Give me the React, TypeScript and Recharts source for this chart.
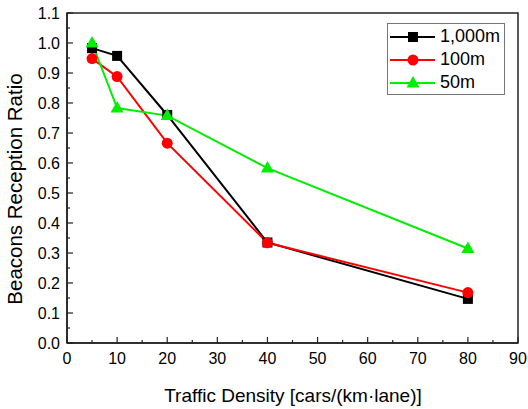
import React from "react";
import { LineChart, Line, XAxis, YAxis, ReferenceArea } from "recharts";

const density = [5, 10, 20, 40, 80];
const range1000 = [0.983, 0.957, 0.76, 0.335, 0.147];
const range100 = [0.948, 0.888, 0.666, 0.334, 0.168];
const range50 = [1.0, 0.783, 0.758, 0.583, 0.315];

const xTicks = [0, 5, 10, 15, 20, 25, 30, 35, 40, 45, 50, 55, 60, 65, 70, 75, 80, 85, 90];
const yTicks = [0, 0.05, 0.1, 0.15, 0.2, 0.25, 0.3, 0.35, 0.4, 0.45, 0.5, 0.55, 0.6, 0.65, 0.7, 0.75, 0.8, 0.85, 0.9, 0.95, 1.0, 1.05, 1.1];

const data = density.map((x, i) => ({
  x,
  r1000: range1000[i],
  r100: range100[i],
  r50: range50[i],
}));

const FONT = "'Liberation Sans', Arial, sans-serif";

const series = [
  { key: "r1000", name: "1,000m", color: "#000000", shape: "square" },
  { key: "r100", name: "100m", color: "#ff0000", shape: "circle" },
  { key: "r50", name: "50m", color: "#00ee00", shape: "triangle" },
];

function Marker({ shape, cx, cy, color }: any) {
  if (shape === "square") {
    return <rect x={cx - 5} y={cy - 5} width={10} height={10} fill={color} />;
  }
  if (shape === "circle") {
    return <circle cx={cx} cy={cy} r={5.5} fill={color} />;
  }
  return (
    <polygon
      points={`${cx},${cy - 7} ${cx - 6.5},${cy + 4.5} ${cx + 6.5},${cy + 4.5}`}
      fill={color}
    />
  );
}

function XTick({ x, y, payload }: any) {
  const major = payload.value % 10 === 0;
  return (
    <g>
      <line x1={x} x2={x} y1={y} y2={y - (major ? 6 : 3)} stroke="#222" strokeWidth={1.2} />
      {major && (
        <text x={x} y={y + 21} textAnchor="middle" fontSize={16} fontFamily={FONT} fill="#000">
          {payload.value}
        </text>
      )}
    </g>
  );
}

function YTick({ x, y, payload }: any) {
  const major = Math.round(payload.value * 100) % 10 === 0;
  return (
    <g>
      <line x1={x} x2={x + (major ? 6 : 3)} y1={y} y2={y} stroke="#222" strokeWidth={1.2} />
      {major && (
        <text x={x - 7} y={y + 5.5} textAnchor="end" fontSize={16} fontFamily={FONT} fill="#000">
          {payload.value.toFixed(1)}
        </text>
      )}
    </g>
  );
}

function LegendBox() {
  return (
    <div
      style={{
        position: "absolute",
        left: 387,
        top: 23,
        border: "1px solid #777",
        background: "#fff",
        width: 118,
        height: 72,
        boxSizing: "border-box",
        paddingTop: 1,
        fontFamily: FONT,
      }}
    >
      {series.map((s) => (
        <div key={s.key} style={{ display: "flex", alignItems: "center", height: 23 }}>
          <svg width={50} height={20} style={{ marginLeft: 1 }}>
            <line x1={1} x2={46} y1={10} y2={10} stroke={s.color} strokeWidth={2} />
            <Marker shape={s.shape} cx={24} cy={10} color={s.color} />
          </svg>
          <span style={{ fontSize: 18, color: "#000", marginLeft: 1 }}>{s.name}</span>
        </div>
      ))}
    </div>
  );
}

export default function App() {
  return (
    <div style={{ position: "absolute", left: 0, top: 0, width: 528, height: 409, background: "#fff" }}>
      <LineChart
        width={528}
        height={409}
        data={data}
        margin={{ top: 13, right: 10, bottom: 0, left: 0 }}
      >
        <XAxis
          dataKey="x"
          type="number"
          domain={[0, 90]}
          ticks={xTicks}
          interval={0}
          height={66}
          tickSize={0}
          tickMargin={0}
          tickLine={false}
          tick={<XTick />}
          axisLine={{ stroke: "#222", strokeWidth: 1.5 }}
          label={{
            content: () => (
              <text x={293} y={402} textAnchor="middle" fontSize={19} fontFamily={FONT} fill="#000">
                Traffic Density [cars/(km·lane)]
              </text>
            ),
          }}
        />
        <YAxis
          type="number"
          domain={[0, 1.1]}
          ticks={yTicks}
          interval={0}
          width={67}
          tickSize={0}
          tickMargin={0}
          tickLine={false}
          tick={<YTick />}
          axisLine={{ stroke: "#222", strokeWidth: 1.5 }}
          label={{
            content: () => (
              <text
                x={0}
                y={0}
                transform="translate(22, 189) rotate(-90)"
                textAnchor="middle"
                fontSize={20.5}
                fontFamily={FONT}
                fill="#000"
              >
                Beacons Reception Ratio
              </text>
            ),
          }}
        />
        <ReferenceArea
          x1={0}
          x2={90}
          y1={0}
          y2={1.1}
          fill="none"
          fillOpacity={0}
          stroke="#222"
          strokeWidth={1.5}
          ifOverflow="visible"
        />
        {series.map((s) => (
          <Line
            key={s.key}
            dataKey={s.key}
            name={s.name}
            stroke={s.color}
            strokeWidth={2}
            isAnimationActive={false}
            dot={(p: any) => (
              <Marker key={`${s.key}-${p.index}`} shape={s.shape} cx={p.cx} cy={p.cy} color={s.color} />
            )}
          />
        ))}
      </LineChart>
      <LegendBox />
    </div>
  );
}
